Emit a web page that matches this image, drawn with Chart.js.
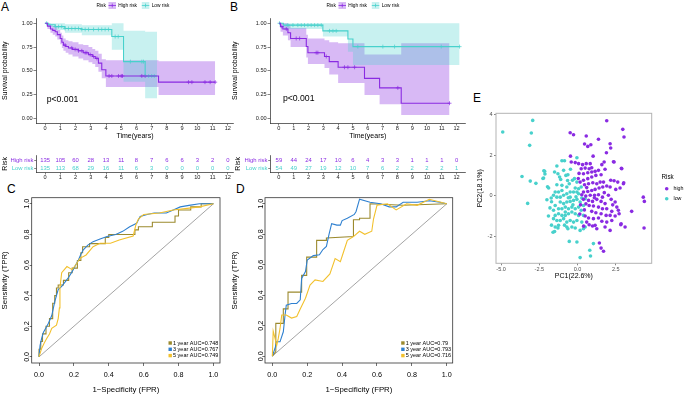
<!DOCTYPE html>
<html>
<head>
<meta charset="utf-8">
<script src="https://cdn.jsdelivr.net/npm/chart.js@4/dist/chart.umd.min.js"></script>
<style>
html,body{margin:0;padding:0;background:#fff}
body{position:relative;width:685px;height:395px;overflow:hidden;font-family:"Liberation Sans",Arial,sans-serif}
canvas{position:absolute}
.pl{position:absolute;font-size:12px;line-height:12px;color:#000;font-family:"Liberation Sans",Arial,sans-serif}
</style>
</head>
<body>
<div class="pl" style="left:1px;top:1px">A</div>
<div class="pl" style="left:230px;top:1px">B</div>
<div class="pl" style="left:7px;top:183px">C</div>
<div class="pl" style="left:236px;top:183px">D</div>
<div class="pl" style="left:473px;top:92px">E</div>
<canvas id="kmA" width="240" height="142" style="left:0;top:0"></canvas>
<canvas id="kmB" width="245" height="142" style="left:230px;top:0"></canvas>
<canvas id="rkA" width="240" height="35" style="left:0;top:150px"></canvas>
<canvas id="rkB" width="245" height="35" style="left:230px;top:150px"></canvas>
<canvas id="rocC" width="230" height="215" style="left:0;top:180px"></canvas>
<canvas id="rocD" width="240" height="215" style="left:230px;top:180px"></canvas>
<canvas id="pca" width="215" height="200" style="left:470px;top:90px"></canvas>
<script>
// ================= DATA =================
const timeTicks = [0,1,2,3,4,5,6,7,8,9,10,11,12];
const survTicks = [0, 0.25, 0.5, 0.75, 1];
const survTickLabels = ['0.00','0.25','0.50','0.75','1.00'];
const riskRows = ['Low risk','High risk'];
const pText = 'p<0.001';

// Panel A – high risk
const aHighT  = [0,0.15,0.35,0.5,0.66,0.8,0.99,1.1,1.2,1.35,1.53,1.8,2.19,2.5,2.85,3.1,3.29,3.5,3.72,3.99,7.45];
const aHighS  = [1,0.97,0.94,0.925,0.91,0.88,0.84,0.80,0.77,0.755,0.74,0.725,0.71,0.69,0.67,0.65,0.63,0.58,0.51,0.445,0.38];
const aHighLo = [1,0.94,0.90,0.88,0.86,0.83,0.78,0.74,0.71,0.69,0.67,0.65,0.63,0.61,0.59,0.57,0.54,0.49,0.42,0.33,0.245];
const aHighHi = [1,1.0,0.98,0.97,0.96,0.93,0.90,0.87,0.84,0.82,0.81,0.80,0.78,0.77,0.75,0.73,0.71,0.68,0.62,0.61,0.60];
const aHighEnd = 11.17;
const aHighCens = [1.31,1.75,1.97,2.19,2.41,2.63,2.74,2.96,3.18,3.4,4.2,4.38,4.82,5.0,5.08,6.35,6.57,9.42,9.64,10.5,10.84,11.17];
// Panel A – low risk
const aLowT  = [0,0.2,0.66,1.3,2.41,4.38,5.15,6.57];
const aLowS  = [1,0.985,0.965,0.945,0.935,0.86,0.596,0.445];
const aLowLo = [1,0.96,0.93,0.90,0.875,0.72,0.385,0.21];
const aLowHi = [1,1,1,0.99,0.98,1,0.92,0.91];
const aLowEnd = 7.35;
const aLowCens = [0.1,0.66,0.88,1.09,1.31,1.53,1.75,1.97,2.19,2.41,2.63,2.85,3.18,3.5,3.72,3.94,4.16,4.6,4.8,5.6,6.35,6.46,6.8,7.0,7.17];

// Panel B – high risk
const bHighT  = [0,0.11,0.27,0.61,0.79,1.85,1.96,3.08,3.4,4.0,5.78,6.8,8.26];
const bHighS  = [1,0.965,0.94,0.90,0.84,0.755,0.69,0.65,0.596,0.537,0.42,0.32,0.158];
const bHighLo = [1,0.91,0.87,0.82,0.75,0.64,0.57,0.53,0.46,0.37,0.245,0.147,0.035];
const bHighHi = [1,1,1,0.99,0.95,0.88,0.84,0.82,0.80,0.79,0.67,0.67,0.79];
const bHighEnd = 11.52;
const bHighCens = [0.2,0.5,1.17,1.4,2.52,2.63,3.2,4.43,4.66,5.11,8.03,11.52];
// Panel B – low risk
const bLowT  = [0,0.3,2.97,4.66,5.0];
const bLowS  = [1,0.98,0.92,0.835,0.754];
const bLowLo = [1,0.94,0.86,0.70,0.56];
const bLowHi = [1,1,1,1,1];
const bLowEnd = 12.2;
const bLowCens = [0.04,0.61,0.95,1.28,1.51,1.73,1.96,2.18,2.41,2.63,2.86,3.42,3.65,3.87,5.33,7.02,7.81,10.96,12.2];

// Numbers at risk
const aRiskHigh = [135,105,60,28,13,11,8,7,6,6,3,2,0];
const aRiskLow  = [135,113,68,29,16,11,6,3,0,0,0,0,0];
const bRiskHigh = [59,44,24,17,10,6,4,3,3,1,1,1,0];
const bRiskLow  = [54,49,27,19,12,10,7,6,2,2,2,2,1];

// ROC
const rocTicks = [0,0.2,0.4,0.6,0.8,1.0];
const rocTickLabels = ['0.0','0.2','0.4','0.6','0.8','1.0'];
const rocYears = ['1 year','3 year','5 year'];
const cAUC = ['0.748','0.767','0.749'];
const dAUC = ['0.79','0.793','0.716'];
const c1 = [[0,0],[0,0.05],[0.01,0.05],[0.01,0.1],[0.02,0.1],[0.02,0.15],[0.04,0.15],[0.04,0.2],[0.06,0.2],[0.06,0.25],[0.075,0.25],[0.075,0.3],[0.08,0.3],[0.08,0.35],[0.09,0.35],[0.09,0.4],[0.1,0.4],[0.1,0.45],[0.11,0.45],[0.11,0.47],[0.14,0.47],[0.14,0.5],[0.17,0.5],[0.17,0.55],[0.19,0.55],[0.19,0.58],[0.22,0.58],[0.22,0.63],[0.24,0.63],[0.24,0.68],[0.25,0.68],[0.25,0.72],[0.29,0.72],[0.29,0.74],[0.38,0.74],[0.38,0.78],[0.4,0.78],[0.4,0.8],[0.55,0.8],[0.55,0.83],[0.57,0.83],[0.57,0.85],[0.65,0.85],[0.65,0.88],[0.78,0.88],[0.78,0.92],[0.8,0.92],[0.8,0.96],[0.87,0.96],[0.87,0.98],[0.93,0.98],[0.93,1],[1,1]];
const c3 = [[0,0],[0.006,0.076],[0.015,0.12],[0.025,0.16],[0.04,0.19],[0.054,0.22],[0.073,0.27],[0.09,0.36],[0.1,0.4],[0.11,0.44],[0.13,0.46],[0.15,0.49],[0.17,0.52],[0.19,0.557],[0.21,0.6],[0.226,0.633],[0.24,0.67],[0.254,0.70],[0.28,0.73],[0.31,0.753],[0.35,0.77],[0.39,0.786],[0.44,0.8],[0.48,0.82],[0.52,0.85],[0.56,0.873],[0.58,0.917],[0.62,0.93],[0.66,0.94],[0.73,0.94],[0.77,0.96],[0.81,0.98],[0.86,0.99],[0.92,1.0],[1,1]];
const c5 = [[0,0],[0.015,0.055],[0.03,0.09],[0.044,0.12],[0.06,0.15],[0.073,0.186],[0.10,0.207],[0.11,0.25],[0.117,0.32],[0.12,0.45],[0.13,0.55],[0.16,0.59],[0.19,0.57],[0.21,0.6],[0.235,0.644],[0.27,0.666],[0.31,0.72],[0.35,0.742],[0.41,0.742],[0.46,0.764],[0.54,0.79],[0.555,0.86],[0.57,0.9],[0.6,0.93],[0.69,0.94],[0.77,0.96],[0.85,0.97],[0.92,0.98],[1,1]];
const d1 = [[0,0],[0.02,0.03],[0.02,0.215],[0.063,0.215],[0.063,0.31],[0.09,0.31],[0.09,0.42],[0.168,0.42],[0.168,0.53],[0.197,0.53],[0.197,0.65],[0.254,0.65],[0.254,0.76],[0.31,0.76],[0.31,0.775],[0.465,0.785],[0.465,0.895],[0.5,0.895],[0.5,0.905],[0.56,0.905],[0.56,1.0],[0.75,0.99],[1,1]];
const d3 = [[0,0],[0.015,0.05],[0.025,0.094],[0.044,0.094],[0.063,0.16],[0.073,0.27],[0.08,0.335],[0.11,0.346],[0.14,0.346],[0.16,0.37],[0.168,0.51],[0.19,0.555],[0.2,0.63],[0.235,0.66],[0.27,0.665],[0.29,0.7],[0.31,0.72],[0.325,0.8],[0.34,0.87],[0.37,0.86],[0.39,0.86],[0.40,0.89],[0.43,0.905],[0.47,0.93],[0.48,0.95],[0.5,1.03],[0.56,1.01],[0.62,1.0],[0.67,0.98],[0.71,0.98],[0.75,1.01],[0.83,1.01],[0.9,1.02],[0.96,1.01],[1,1]];
const d5 = [[0,0],[0.005,0.165],[0.015,0.12],[0.025,0.07],[0.034,0.116],[0.044,0.18],[0.054,0.27],[0.08,0.27],[0.11,0.25],[0.14,0.26],[0.16,0.31],[0.19,0.38],[0.216,0.467],[0.245,0.5],[0.29,0.49],[0.33,0.54],[0.36,0.64],[0.39,0.62],[0.41,0.69],[0.43,0.76],[0.465,0.785],[0.50,0.82],[0.53,0.80],[0.57,0.82],[0.58,0.9],[0.6,0.99],[0.66,1.0],[0.71,0.96],[0.77,1.0],[0.83,0.99],[0.9,1.03],[1,1]];

// PCA
const pcaXTicks = [-5,-2.5,0,2.5];
const pcaXTickLabels = ['-5.0','-2.5','0.0','2.5'];
const pcaYTicks = [-2,0,2,4];
const pcaYTickLabels = ['-2','0','2','4'];
const pcaGroups = ['high','low'];
const pcaHigh = [[-0.48,3.10],[-0.26,3.00],[0.57,2.94],[1.91,3.69],[1.37,2.78],[2.96,3.27],[3.04,2.89],[2.13,2.56],[2.17,2.35],[0.46,2.55],[0.67,2.43],[0.87,2.51],[1.89,2.12],[1.02,1.95],[-0.46,1.95],[-0.41,1.66],[-0.15,1.63],[0.07,1.58],[0.33,1.53],[0.57,1.58],[0.83,1.58],[0.24,1.33],[0.50,1.36],[0.76,1.33],[0.93,1.38],[0.39,1.08],[0.67,1.13],[0.93,1.17],[1.15,1.20],[1.37,1.25],[1.59,1.53],[1.74,1.66],[1.80,1.30],[2.39,1.66],[2.89,1.33],[1.54,1.03],[1.20,1.00],[0.93,0.92],[0.67,0.84],[0.39,0.76],[0.17,0.67],[0.46,0.54],[0.72,0.59],[1.00,0.64],[1.26,0.59],[1.48,0.67],[1.70,0.67],[2.17,0.76],[2.63,0.67],[3.00,0.59],[2.78,0.38],[2.50,0.31],[2.13,0.43],[1.91,0.48],[1.65,0.43],[1.41,0.38],[1.15,0.31],[0.93,0.26],[0.67,0.21],[0.39,0.18],[0.28,0.05],[0.54,-0.02],[0.83,0.02],[1.11,0.02],[1.37,0.05],[1.63,-0.07],[2.02,0.02],[0.39,-0.18],[0.72,-0.23],[0.98,-0.28],[1.26,-0.18],[1.54,-0.28],[1.80,-0.39],[2.20,-0.18],[2.46,-0.31],[0.76,-0.48],[1.04,-0.51],[1.37,-0.56],[1.63,-0.64],[1.91,-0.64],[2.24,-0.77],[2.57,-0.56],[2.67,-0.72],[2.72,-0.89],[0.93,-0.77],[1.20,-0.84],[1.54,-0.89],[1.87,-0.97],[2.13,-0.97],[2.46,-1.00],[0.72,-1.10],[1.04,-1.13],[1.37,-1.10],[1.59,-1.26],[1.91,-1.30],[2.24,-1.22],[0.76,-1.43],[0.98,-1.49],[1.15,-1.46],[1.80,-1.54],[2.13,-1.71],[2.85,-1.38],[3.11,-1.54],[3.54,-0.77],[4.30,-0.07],[4.37,-0.28],[4.35,-1.59],[1.43,-2.33],[1.54,-2.58],[1.70,-2.74],[1.26,-1.63],[0.45,-0.70],[0.50,-1.00],[0.60,-1.30],[0.40,-1.50],[0.55,-0.40],[0.20,-0.45],[0.15,-0.90],[2.35,1.67],[2.87,1.35],[3.02,0.64],[2.39,0.74],[2.83,-1.43],[0.10,1.10],[0.05,0.85],[1.10,-0.10],[0.60,0.40],[1.75,0.15],[2.30,-0.45]];
const pcaLow = [[-4.89,3.14],[-2.93,3.71],[-3.02,3.09],[-3.13,2.48],[-3.63,0.95],[-3.09,0.72],[-2.72,0.61],[-3.26,-0.38],[-2.15,1.20],[-2.22,0.87],[-1.89,0.38],[-1.50,1.17],[-1.35,1.46],[-1.28,1.08],[-1.02,1.72],[-0.85,1.72],[-0.91,1.25],[-0.76,1.00],[-0.63,1.03],[-0.46,1.30],[-0.04,1.87],[-0.33,0.76],[-0.20,0.84],[-0.04,0.67],[-0.15,0.38],[-0.54,0.59],[-0.70,0.43],[-1.02,0.26],[-1.24,0.18],[-1.46,0.18],[-1.57,0.02],[-1.35,-0.07],[-1.13,-0.07],[-0.91,0.02],[-0.70,0.10],[-0.48,0.18],[-0.26,0.18],[-0.04,0.18],[0.07,0.10],[-1.13,-0.31],[-0.91,-0.39],[-0.70,-0.31],[-0.48,-0.28],[-0.26,-0.23],[-0.04,-0.18],[0.17,-0.31],[0.07,-0.56],[-0.15,-0.64],[-0.37,-0.56],[-0.59,-0.64],[-0.80,-0.56],[-1.02,-0.64],[-1.24,-0.64],[-1.46,-0.48],[-1.57,-0.72],[-1.46,-0.97],[-1.24,-0.89],[-1.02,-0.97],[-0.80,-0.97],[-0.59,-0.89],[-0.37,-0.80],[-0.15,-0.89],[0.07,-0.97],[-0.04,-1.22],[-0.26,-1.30],[-0.48,-1.22],[-0.70,-1.30],[-0.91,-1.13],[-1.13,-1.22],[-1.35,-1.22],[-1.57,-1.13],[-1.46,-1.54],[-1.24,-1.46],[-0.70,-1.54],[-0.63,-1.63],[-0.37,-1.54],[-0.15,-1.59],[0.17,-1.71],[0.39,-1.63],[0.50,-1.54],[-1.50,-1.76],[-1.28,-1.59],[0.28,-1.30],[0.39,-0.97],[0.24,-0.72],[0.39,-0.48],[0.28,-0.11],[0.07,0.34],[0.24,0.43],[0.50,-0.15],[-0.54,-2.25],[-0.04,-2.28],[1.04,-2.36],[0.80,-2.69],[0.85,-2.97],[0.17,-3.05],[-0.80,-0.80],[-0.48,-0.07],[-1.02,0.51],[-1.72,-0.11],[-1.35,0.54],[-1.17,0.92],[-2.20,1.23],[-2.13,1.07],[-2.26,0.85],[-1.96,0.44],[-1.70,-0.30],[-1.80,-0.60],[-2.00,-0.20],[-1.90,-1.00],[-1.70,-1.45],[-1.60,-1.80],[-0.60,-0.10],[-0.30,-0.45],[-0.85,-1.45],[-1.10,0.80],[-0.65,0.75],[-0.10,-0.05]];

// ================= STYLE / HELPERS =================
const FONT = '"Liberation Sans", Arial, Helvetica, sans-serif';
const PURPLE = '#8a2be2', CYAN = '#48d1cc';
const PURPLE_BAND = 'rgba(138,43,226,0.33)', CYAN_BAND = 'rgba(72,209,204,0.30)';
const ROC_COLS = ['#9c8a2e', '#2f80d0', '#f2c12e'];
Chart.defaults.font.family = FONT;
Chart.defaults.animation = false;
Chart.defaults.color = '#222';

function stepPts(T, V, end){ const p = T.map((t,i)=>({x:t,y:V[i]})); p.push({x:end,y:V[V.length-1]}); return p; }
function survAt(T, S, t){ let v = S[0]; for (let i=0;i<T.length;i++){ if (T[i] <= t) v = S[i]; } return v; }
function pairs(P){ return P.map(p=>({x:p[0], y:p[1]})); }
const setTicks = vals => s => { s.ticks = vals.map(v=>({value:v})); };

function baseOpts(padding){
  return { responsive:false, animation:false, events:[],
    layout:{autoPadding:false, padding},
    plugins:{legend:{display:false}, tooltip:{enabled:false}} };
}

// ================= KM =================
function kmChart(id, W, H, area, xMax, high, low, pPos, yTitlePad){
  const ds = [
    {data:stepPts(high.T,high.S,high.end), borderColor:PURPLE, borderWidth:1.1, stepped:true, pointRadius:0, fill:false},
    {data:stepPts(low.T,low.S,low.end), borderColor:CYAN, borderWidth:1.1, stepped:true, pointRadius:0, fill:false},
    {data:high.cens.map(t=>({x:t,y:survAt(high.T,high.S,t)})), showLine:false, pointStyle:'cross', pointRadius:2, pointBorderColor:PURPLE, pointBorderWidth:0.7, borderColor:PURPLE},
    {data:low.cens.map(t=>({x:t,y:survAt(low.T,low.S,t)})), showLine:false, pointStyle:'cross', pointRadius:2, pointBorderColor:CYAN, pointBorderWidth:0.7, borderColor:CYAN},
    {data:stepPts(low.T,low.lo,low.end), stepped:true, borderWidth:0, borderColor:'transparent', pointRadius:0, fill:false},
    {data:stepPts(low.T,low.hi,low.end), stepped:true, borderWidth:0, borderColor:'transparent', pointRadius:0, fill:'-1', backgroundColor:CYAN_BAND},
    {data:stepPts(high.T,high.lo,high.end), stepped:true, borderWidth:0, borderColor:'transparent', pointRadius:0, fill:false},
    {data:stepPts(high.T,high.hi,high.end), stepped:true, borderWidth:0, borderColor:'transparent', pointRadius:0, fill:'-1', backgroundColor:PURPLE_BAND}
  ];
  const deco = { id:'kmDeco', afterDraw(chart){
    const ctx = chart.ctx; const {x, y} = chart.scales;
    ctx.save();
    ctx.fillStyle = '#000'; ctx.font = '8.7px ' + FONT; ctx.textAlign = 'left'; ctx.textBaseline = 'middle';
    ctx.fillText(pText, x.getPixelForValue(pPos[0]), y.getPixelForValue(pPos[1]));
    // legend
    ctx.font = '4.8px ' + FONT;
    ctx.fillText('Risk', 96.5, 5.5);
    const key = (kx, col, band) => {
      ctx.fillStyle = band; ctx.fillRect(kx, 2, 7.5, 7);
      ctx.strokeStyle = col; ctx.lineWidth = 0.8;
      ctx.beginPath(); ctx.moveTo(kx, 5.5); ctx.lineTo(kx+7.5, 5.5);
      ctx.moveTo(kx+3.75, 3.6); ctx.lineTo(kx+3.75, 7.4); ctx.stroke();
    };
    key(108.5, PURPLE, PURPLE_BAND);
    ctx.fillStyle = '#000'; ctx.fillText('High risk', 118.3, 5.5);
    key(141.8, CYAN, CYAN_BAND);
    ctx.fillStyle = '#000'; ctx.fillText('Low risk', 151.7, 5.5);
    ctx.restore();
  }};
  const opts = baseOpts({left:0, top:area.t, right:W-area.r, bottom:0});
  opts.scales = {
    x:{type:'linear', min:-0.6, max:xMax, afterBuildTicks:setTicks(timeTicks), afterFit:s=>{s.height = H-area.b;},
       ticks:{font:{size:5.6, lineHeight:1}, color:'#222', padding:0.3, maxRotation:0, autoSkip:false, callback:v=>String(v)},
       grid:{display:true, drawOnChartArea:false, drawTicks:true, tickLength:2.5, color:'#333', lineWidth:0.6},
       border:{display:true, color:'#000', width:0.6},
       title:{display:true, text:'Time(years)', font:{size:7}, color:'#000', padding:{top:0,bottom:1.8}}},
    y:{type:'linear', min:-0.05, max:1.05, afterBuildTicks:setTicks(survTicks), afterFit:s=>{s.width = area.l;},
       ticks:{font:{size:5.6, lineHeight:1}, color:'#222', padding:0.8, autoSkip:false, callback:(v,i)=>survTickLabels[i]},
       grid:{display:true, drawOnChartArea:false, drawTicks:true, tickLength:2.5, color:'#333', lineWidth:0.6},
       border:{display:true, color:'#000', width:0.6},
       title:{display:true, text:'Survival probability', font:{size:7}, color:'#000', padding:{top:yTitlePad,bottom:0}}}
  };
  return new Chart(document.getElementById(id), {type:'line', data:{datasets:ds}, options:opts, plugins:[deco]});
}

// ================= RISK TABLE =================
function riskChart(id, W, H, area, xMax, high, low, titlePad){
  const ds = [
    {data:high.map((n,i)=>({x:timeTicks[i], y:1})), counts:high, color:PURPLE, showLine:false, pointRadius:0},
    {data:low.map((n,i)=>({x:timeTicks[i], y:0})), counts:low, color:CYAN, showLine:false, pointRadius:0}
  ];
  const deco = { id:'riskDeco', afterDatasetsDraw(chart){
    const ctx = chart.ctx; ctx.save();
    ctx.font = '5.9px ' + FONT; ctx.textAlign = 'center'; ctx.textBaseline = 'middle';
    chart.data.datasets.forEach((d, di) => {
      const meta = chart.getDatasetMeta(di);
      ctx.fillStyle = d.color;
      meta.data.forEach((pt, j) => ctx.fillText(String(d.counts[j]), pt.x, pt.y));
    });
    ctx.restore();
  }};
  const opts = baseOpts({left:0, top:area.t, right:W-area.r, bottom:0});
  opts.scales = {
    x:{type:'linear', min:-0.6, max:xMax, afterBuildTicks:setTicks(timeTicks), afterFit:s=>{s.height = H-area.b;},
       ticks:{font:{size:5.6, lineHeight:1}, color:'#222', padding:0, maxRotation:0, autoSkip:false, callback:v=>String(v)},
       grid:{display:true, drawOnChartArea:false, drawTicks:true, tickLength:1.8, color:'#333', lineWidth:0.6},
       border:{display:true, color:'#000', width:0.6}},
    y:{type:'linear', min:-0.58, max:1.75, afterBuildTicks:setTicks([0,1]), afterFit:s=>{s.width = area.l;},
       ticks:{font:{size:5.9, lineHeight:1}, padding:0.8, autoSkip:false, callback:v=>riskRows[v],
              color:c=>(c.tick && c.tick.value===1) ? PURPLE : CYAN},
       grid:{display:true, drawOnChartArea:false, drawTicks:true, tickLength:1.8, color:'#333', lineWidth:0.6},
       border:{display:true, color:'#000', width:0.6},
       title:{display:true, text:'Risk', font:{size:7}, color:'#000', padding:{top:titlePad,bottom:0}}}
  };
  return new Chart(document.getElementById(id), {type:'line', data:{datasets:ds}, options:opts, plugins:[deco]});
}

// ================= ROC =================
function rocChart(id, W, H, area, xr, yr, curves, auc){
  const ds = [
    {data:pairs(curves[2]), borderColor:ROC_COLS[2], borderWidth:1.1, pointRadius:0, fill:false},
    {data:pairs(curves[1]), borderColor:ROC_COLS[1], borderWidth:1.1, pointRadius:0, fill:false},
    {data:pairs(curves[0]), borderColor:ROC_COLS[0], borderWidth:1.1, pointRadius:0, fill:false},
    {data:[{x:0,y:0},{x:1,y:1}], borderColor:'#666', borderWidth:0.6, pointRadius:0, fill:false}
  ];
  const deco = { id:'rocDeco', afterDraw(chart){
    const ctx = chart.ctx, a = chart.chartArea, y = chart.scales.y;
    ctx.save();
    ctx.strokeStyle = '#333'; ctx.lineWidth = 0.8;
    ctx.strokeRect(a.left, a.top, a.right-a.left, a.bottom-a.top);
    ctx.fillStyle = '#000'; ctx.font = '7.2px ' + FONT; ctx.textAlign = 'center'; ctx.textBaseline = 'alphabetic';
    y.ticks.forEach((t,i)=>{
      const py = y.getPixelForValue(t.value);
      ctx.save(); ctx.translate(a.left-2.3, py); ctx.rotate(-Math.PI/2); ctx.fillText(rocTickLabels[i], 0, 0); ctx.restore();
    });
    ctx.font = '5.5px ' + FONT; ctx.textAlign = 'left'; ctx.textBaseline = 'middle';
    const rows = [a.bottom-20, a.bottom-13.7, a.bottom-7.4];
    rows.forEach((ry, i) => {
      ctx.fillStyle = ROC_COLS[i]; ctx.fillRect(a.right-51.5, ry-1.7, 3.4, 3.4);
      ctx.fillStyle = '#000'; ctx.fillText(rocYears[i] + ' AUC=' + auc[i], a.right-47, ry);
    });
    ctx.restore();
  }};
  const opts = baseOpts({left:0, top:area.t, right:W-area.r, bottom:0});
  opts.scales = {
    x:{type:'linear', min:xr[0], max:xr[1], afterBuildTicks:setTicks(rocTicks), afterFit:s=>{s.height = H-area.b;},
       ticks:{font:{size:7.2, lineHeight:1}, color:'#000', padding:5.4, maxRotation:0, autoSkip:false, callback:(v,i)=>rocTickLabels[i]},
       grid:{display:true, drawOnChartArea:false, drawTicks:true, tickLength:3, color:'#333', lineWidth:0.7},
       border:{display:false},
       title:{display:true, text:'1\u2212Specificity (FPR)', font:{size:7.8}, color:'#000', padding:{top:0,bottom:0.3}}},
    y:{type:'linear', min:yr[0], max:yr[1], afterBuildTicks:setTicks(rocTicks), afterFit:s=>{s.width = area.l;},
       ticks:{display:false},
       grid:{display:true, drawOnChartArea:false, drawTicks:true, tickLength:2, color:'#333', lineWidth:0.7},
       border:{display:false},
       title:{display:true, text:'Sensitivity (TPR)', font:{size:7.8}, color:'#000', padding:{top:0.3,bottom:0}}}
  };
  return new Chart(document.getElementById(id), {type:'line', data:{datasets:ds}, options:opts, plugins:[deco]});
}

// ================= PCA =================
function pcaChart(id, W, H, area){
  const ds = [
    {label:pcaGroups[0], data:pairs(pcaHigh), pointRadius:1.8, pointBackgroundColor:PURPLE, pointBorderWidth:0, backgroundColor:PURPLE},
    {label:pcaGroups[1], data:pairs(pcaLow), pointRadius:1.8, pointBackgroundColor:CYAN, pointBorderWidth:0, backgroundColor:CYAN}
  ];
  const deco = { id:'pcaDeco', afterDraw(chart){
    const ctx = chart.ctx, a = chart.chartArea;
    ctx.save();
    ctx.strokeStyle = '#b3b3b3'; ctx.lineWidth = 1;
    ctx.strokeRect(a.left, a.top, a.right-a.left, a.bottom-a.top);
    ctx.fillStyle = '#000'; ctx.textAlign = 'left'; ctx.textBaseline = 'middle';
    ctx.font = '6.3px ' + FONT; ctx.fillText('Risk', 191.5, 87.5);
    ctx.font = '5.3px ' + FONT;
    [[PURPLE, 98.7], [CYAN, 108.7]].forEach((r, i) => {
      ctx.fillStyle = r[0]; ctx.beginPath(); ctx.arc(196.7, r[1], 1.8, 0, Math.PI*2); ctx.fill();
      ctx.fillStyle = '#000'; ctx.fillText(pcaGroups[i], 203.5, r[1]);
    });
    ctx.restore();
  }};
  const opts = baseOpts({left:0, top:area.t, right:W-area.r, bottom:0});
  opts.scales = {
    x:{type:'linear', min:-5.33, max:4.85, afterBuildTicks:setTicks(pcaXTicks), afterFit:s=>{s.height = H-area.b;},
       ticks:{font:{size:5.5, lineHeight:1}, color:'#4d4d4d', padding:1.3, maxRotation:0, autoSkip:false, callback:(v,i)=>pcaXTickLabels[i]},
       grid:{display:true, drawOnChartArea:false, drawTicks:true, tickLength:2, color:'#333', lineWidth:0.6},
       border:{display:false},
       title:{display:true, text:'PC1(22.6%)', font:{size:7}, color:'#000', padding:{top:0,bottom:9.8}}},
    y:{type:'linear', min:-3.33, max:4.06, afterBuildTicks:setTicks(pcaYTicks), afterFit:s=>{s.width = area.l;},
       ticks:{font:{size:5.5, lineHeight:1}, color:'#4d4d4d', padding:1.5, autoSkip:false, callback:(v,i)=>pcaYTickLabels[i]},
       grid:{display:true, drawOnChartArea:false, drawTicks:true, tickLength:2, color:'#333', lineWidth:0.6},
       border:{display:false},
       title:{display:true, text:'PC2(18.1%)', font:{size:7}, color:'#000', padding:{top:5.8,bottom:0}}}
  };
  return new Chart(document.getElementById(id), {type:'scatter', data:{datasets:ds}, options:opts, plugins:[deco]});
}

// ================= BUILD =================
kmChart('kmA', 240, 142, {l:36, t:18.5, r:233.9, b:123}, 12.4,
  {T:aHighT,S:aHighS,lo:aHighLo,hi:aHighHi,end:aHighEnd,cens:aHighCens},
  {T:aLowT,S:aLowS,lo:aLowLo,hi:aLowHi,end:aLowEnd,cens:aLowCens}, [0.1, 0.2], 1.1);
kmChart('kmB', 245, 142, {l:40, t:18.5, r:235.5, b:123}, 12.6,
  {T:bHighT,S:bHighS,lo:bHighLo,hi:bHighHi,end:bHighEnd,cens:bHighCens},
  {T:bLowT,S:bLowS,lo:bLowLo,hi:bLowHi,end:bLowEnd,cens:bLowCens}, [0.27, 0.21], 0.8);
riskChart('rkA', 240, 35, {l:36, t:5, r:233.9, b:22.7}, 12.4, aRiskHigh, aRiskLow, 0.8);
riskChart('rkB', 245, 35, {l:40, t:5, r:235.5, b:22.7}, 12.6, bRiskHigh, bRiskLow, 4.1);
rocChart('rocC', 230, 215, {l:31.7, t:17.7, r:220, b:183}, [-0.042,1.038], [-0.04,1.04], [c1,c3,c5], cAUC);
rocChart('rocD', 240, 215, {l:35, t:17.7, r:222.7, b:183}, [-0.042,1.034], [-0.045,1.04], [d1,d3,d5], dAUC);
pcaChart('pca', 215, 200, {l:26, t:23.3, r:181.7, b:173.3});
</script>
</body>
</html>
